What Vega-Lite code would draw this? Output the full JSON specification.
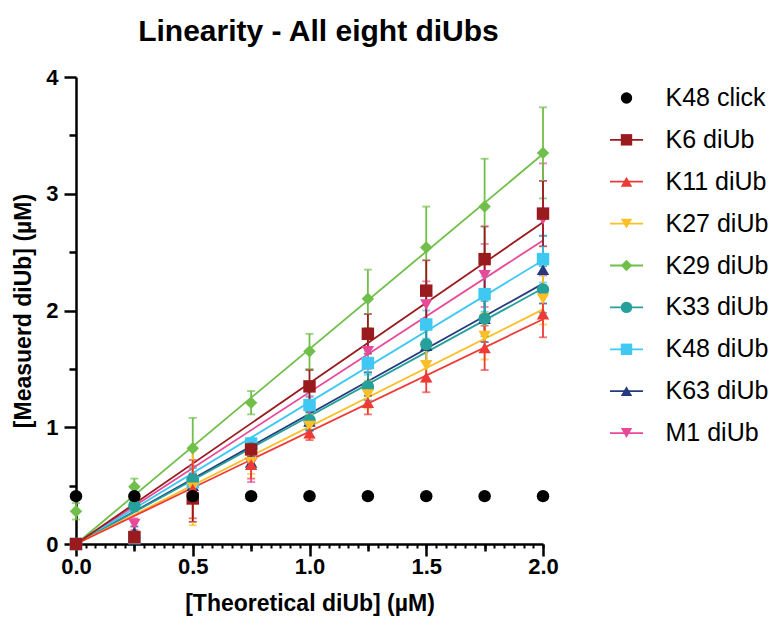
{
  "$schema": "https://vega.github.io/schema/vega-lite/v6.json",
  "background": "white",
  "padding": {"left": 12, "top": 17, "right": 0, "bottom": 5},
  "config": {"view": {"stroke": null}, "font": "Liberation Sans", "concat": {"spacing": 50}},
  "datasets": {
    "pts": [
      {"s": "M1 diUb", "x": 0, "y": 0, "e": 0},
      {"s": "M1 diUb", "x": 0.25, "y": 0.17, "e": 0.05},
      {"s": "M1 diUb", "x": 0.5, "y": 0.52, "e": 0.15},
      {"s": "M1 diUb", "x": 0.75, "y": 0.69, "e": 0.16},
      {"s": "M1 diUb", "x": 1.0, "y": 1.16, "e": 0.1},
      {"s": "M1 diUb", "x": 1.25, "y": 1.65, "e": 0.15},
      {"s": "M1 diUb", "x": 1.5, "y": 2.05, "e": 0.2},
      {"s": "M1 diUb", "x": 1.75, "y": 2.3, "e": 0.27},
      {"s": "M1 diUb", "x": 2.0, "y": 2.78, "e": 0.48},
      {"s": "K63 diUb", "x": 0, "y": 0, "e": 0},
      {"s": "K63 diUb", "x": 0.25, "y": 0.1, "e": 0.05},
      {"s": "K63 diUb", "x": 0.5, "y": 0.5, "e": 0.1},
      {"s": "K63 diUb", "x": 0.75, "y": 0.7, "e": 0.05},
      {"s": "K63 diUb", "x": 1.0, "y": 1.05, "e": 0.08},
      {"s": "K63 diUb", "x": 1.25, "y": 1.37, "e": 0.1},
      {"s": "K63 diUb", "x": 1.5, "y": 1.7, "e": 0.14},
      {"s": "K63 diUb", "x": 1.75, "y": 1.93, "e": 0.2},
      {"s": "K63 diUb", "x": 2.0, "y": 2.35, "e": 0.29},
      {"s": "K48 diUb", "x": 0, "y": 0, "e": 0},
      {"s": "K48 diUb", "x": 0.25, "y": 0.05, "e": 0.03},
      {"s": "K48 diUb", "x": 0.5, "y": 0.53, "e": 0.08},
      {"s": "K48 diUb", "x": 0.75, "y": 0.86, "e": 0.05},
      {"s": "K48 diUb", "x": 1.0, "y": 1.19, "e": 0.08},
      {"s": "K48 diUb", "x": 1.25, "y": 1.55, "e": 0.1},
      {"s": "K48 diUb", "x": 1.5, "y": 1.88, "e": 0.12},
      {"s": "K48 diUb", "x": 1.75, "y": 2.14, "e": 0.15},
      {"s": "K48 diUb", "x": 2.0, "y": 2.44, "e": 0.2},
      {"s": "K33 diUb", "x": 0, "y": 0, "e": 0},
      {"s": "K33 diUb", "x": 0.25, "y": 0.33, "e": 0.05},
      {"s": "K33 diUb", "x": 0.5, "y": 0.55, "e": 0.1},
      {"s": "K33 diUb", "x": 0.75, "y": 0.82, "e": 0.05},
      {"s": "K33 diUb", "x": 1.0, "y": 1.06, "e": 0.08},
      {"s": "K33 diUb", "x": 1.25, "y": 1.35, "e": 0.12},
      {"s": "K33 diUb", "x": 1.5, "y": 1.71, "e": 0.15},
      {"s": "K33 diUb", "x": 1.75, "y": 1.93, "e": 0.15},
      {"s": "K33 diUb", "x": 2.0, "y": 2.18, "e": 0.2},
      {"s": "K29 diUb", "x": 0, "y": 0.28, "e": 0.07},
      {"s": "K29 diUb", "x": 0.25, "y": 0.49, "e": 0.07},
      {"s": "K29 diUb", "x": 0.5, "y": 0.82, "e": 0.26},
      {"s": "K29 diUb", "x": 0.75, "y": 1.21, "e": 0.1},
      {"s": "K29 diUb", "x": 1.0, "y": 1.65, "e": 0.15},
      {"s": "K29 diUb", "x": 1.25, "y": 2.1, "e": 0.25},
      {"s": "K29 diUb", "x": 1.5, "y": 2.54, "e": 0.35},
      {"s": "K29 diUb", "x": 1.75, "y": 2.89, "e": 0.41},
      {"s": "K29 diUb", "x": 2.0, "y": 3.35, "e": 0.39},
      {"s": "K27 diUb", "x": 0, "y": 0, "e": 0},
      {"s": "K27 diUb", "x": 0.25, "y": 0.05, "e": 0.03},
      {"s": "K27 diUb", "x": 0.5, "y": 0.48, "e": 0.32},
      {"s": "K27 diUb", "x": 0.75, "y": 0.7, "e": 0.1},
      {"s": "K27 diUb", "x": 1.0, "y": 1.01, "e": 0.1},
      {"s": "K27 diUb", "x": 1.25, "y": 1.28, "e": 0.12},
      {"s": "K27 diUb", "x": 1.5, "y": 1.53, "e": 0.14},
      {"s": "K27 diUb", "x": 1.75, "y": 1.78, "e": 0.2},
      {"s": "K27 diUb", "x": 2.0, "y": 2.1, "e": 0.22},
      {"s": "K11 diUb", "x": 0, "y": 0, "e": 0},
      {"s": "K11 diUb", "x": 0.25, "y": 0.05, "e": 0.02},
      {"s": "K11 diUb", "x": 0.5, "y": 0.47, "e": 0.25},
      {"s": "K11 diUb", "x": 0.75, "y": 0.68, "e": 0.12},
      {"s": "K11 diUb", "x": 1.0, "y": 0.95, "e": 0.06},
      {"s": "K11 diUb", "x": 1.25, "y": 1.21, "e": 0.1},
      {"s": "K11 diUb", "x": 1.5, "y": 1.43, "e": 0.13},
      {"s": "K11 diUb", "x": 1.75, "y": 1.68, "e": 0.19},
      {"s": "K11 diUb", "x": 2.0, "y": 1.97, "e": 0.2},
      {"s": "K6 diUb", "x": 0, "y": 0, "e": 0},
      {"s": "K6 diUb", "x": 0.25, "y": 0.06, "e": 0.03},
      {"s": "K6 diUb", "x": 0.5, "y": 0.39, "e": 0.2},
      {"s": "K6 diUb", "x": 0.75, "y": 0.81, "e": 0.08},
      {"s": "K6 diUb", "x": 1.0, "y": 1.35, "e": 0.14},
      {"s": "K6 diUb", "x": 1.25, "y": 1.8, "e": 0.17},
      {"s": "K6 diUb", "x": 1.5, "y": 2.17, "e": 0.26},
      {"s": "K6 diUb", "x": 1.75, "y": 2.44, "e": 0.28},
      {"s": "K6 diUb", "x": 2.0, "y": 2.83, "e": 0.28},
      {"s": "K48 click", "x": 0, "y": 0.41, "e": 0},
      {"s": "K48 click", "x": 0.25, "y": 0.41, "e": 0},
      {"s": "K48 click", "x": 0.5, "y": 0.41, "e": 0},
      {"s": "K48 click", "x": 0.75, "y": 0.41, "e": 0},
      {"s": "K48 click", "x": 1.0, "y": 0.41, "e": 0},
      {"s": "K48 click", "x": 1.25, "y": 0.41, "e": 0},
      {"s": "K48 click", "x": 1.5, "y": 0.41, "e": 0},
      {"s": "K48 click", "x": 1.75, "y": 0.41, "e": 0},
      {"s": "K48 click", "x": 2.0, "y": 0.41, "e": 0}
    ],
    "fit": [
      {"s": "M1 diUb", "x": 0, "y": 0}, {"s": "M1 diUb", "x": 2, "y": 2.6},
      {"s": "K63 diUb", "x": 0, "y": 0}, {"s": "K63 diUb", "x": 2, "y": 2.23},
      {"s": "K48 diUb", "x": 0, "y": 0}, {"s": "K48 diUb", "x": 2, "y": 2.43},
      {"s": "K33 diUb", "x": 0, "y": 0}, {"s": "K33 diUb", "x": 2, "y": 2.19},
      {"s": "K29 diUb", "x": 0, "y": 0}, {"s": "K29 diUb", "x": 2, "y": 3.34},
      {"s": "K27 diUb", "x": 0, "y": 0}, {"s": "K27 diUb", "x": 2, "y": 2.01},
      {"s": "K11 diUb", "x": 0, "y": 0}, {"s": "K11 diUb", "x": 2, "y": 1.925},
      {"s": "K6 diUb", "x": 0, "y": 0}, {"s": "K6 diUb", "x": 2, "y": 2.755}
    ],
    "leg": [
      {"s": "K48 click"}, {"s": "K6 diUb"}, {"s": "K11 diUb"}, {"s": "K27 diUb"}, {"s": "K29 diUb"},
      {"s": "K33 diUb"}, {"s": "K48 diUb"}, {"s": "K63 diUb"}, {"s": "M1 diUb"}
    ]
  },
  "hconcat": [
    {
      "width": 467,
      "height": 467,
      "title": {"text": "Linearity - All eight diUbs", "fontSize": 30, "fontWeight": "bold", "font": "Liberation Sans", "color": "black", "anchor": "middle", "offset": 19, "dx": 9},
      "resolve": {"axis": {"x": "independent", "y": "independent"}},
      "layer": [
        {
          "data": {"name": "fit"},
          "mark": {"type": "line", "strokeWidth": 1.8, "clip": false},
          "encoding": {
            "x": {"field": "x", "type": "quantitative",
              "scale": {"domain": [0, 2], "nice": false, "zero": false},
              "axis": {
                "orient": "bottom", "title": null, "labels": false, "domain": false, "grid": false,
                "values": [0, 0.041667, 0.083333, 0.125, 0.166667, 0.208333, 0.25, 0.291667, 0.333333, 0.375, 0.416667, 0.458333, 0.5, 0.541667, 0.583333, 0.625, 0.666667, 0.708333, 0.75, 0.791667, 0.833333, 0.875, 0.916667, 0.958333, 1, 1.041667, 1.083333, 1.125, 1.166667, 1.208333, 1.25, 1.291667, 1.333333, 1.375, 1.416667, 1.458333, 1.5, 1.541667, 1.583333, 1.625, 1.666667, 1.708333, 1.75, 1.791667, 1.833333, 1.875, 1.916667, 1.958333, 2],
                "tickColor": "black", "tickWidth": 2, "tickSize": 4
              }
            },
            "y": {"field": "y", "type": "quantitative",
              "scale": {"domain": [0, 4], "nice": false},
              "axis": {
                "orient": "left", "title": null, "labels": false, "domain": false, "grid": false,
                "values": [0.5, 1.5, 2.5, 3.5],
                "tickColor": "black", "tickWidth": 2.5, "tickSize": 7
              }
            },
            "color": {"field": "s", "type": "nominal", "legend": null,
              "scale": {"domain": ["K48 click", "K6 diUb", "K11 diUb", "K27 diUb", "K29 diUb", "K33 diUb", "K48 diUb", "K63 diUb", "M1 diUb"],
                        "range": ["#000000", "#991b1e", "#ee3a36", "#fcbf25", "#70bf4a", "#26a09a", "#3ec8f2", "#243b7e", "#ea4898"]}},
            "detail": {"field": "s"}
          }
        },
        {
          "data": {"name": "pts"},
          "transform": [{"filter": "datum.e > 0"}],
          "mark": {"type": "errorbar", "ticks": {"size": 8, "thickness": 1.8}, "thickness": 1.8},
          "encoding": {
            "x": {"field": "x", "type": "quantitative",
              "axis": {
                "orient": "bottom", "title": null, "labels": false, "domain": false, "grid": false,
                "values": [0.25, 0.75, 1.25, 1.75],
                "tickColor": "black", "tickWidth": 2.5, "tickSize": 7
              }
            },
            "y": {"field": "y", "type": "quantitative", "axis": null},
            "yError": {"field": "e"},
            "color": {"field": "s", "type": "nominal", "legend": null}
          }
        },
        {
          "data": {"name": "pts"},
          "mark": {"type": "point", "filled": true, "opacity": 1, "size": 155, "clip": false},
          "encoding": {
            "x": {"field": "x", "type": "quantitative",
              "axis": {
                "orient": "bottom", "title": "[Theoretical diUb] (µM)", "titleFontSize": 23, "titleFontWeight": "bold", "titleColor": "black", "titlePadding": 15,
                "values": [0, 0.5, 1, 1.5, 2], "format": ".1f",
                "labelFontSize": 22, "labelFontWeight": "bold", "labelColor": "black", "labelPadding": 0, "labelFlush": false, "labelOverlap": false,
                "domainColor": "black", "domainWidth": 2.5, "tickColor": "black", "tickWidth": 2.5, "tickSize": 12, "grid": false
              }
            },
            "y": {"field": "y", "type": "quantitative",
              "axis": {
                "orient": "left", "title": "[Measuerd diUb] (µM)", "titleFontSize": 23, "titleFontWeight": "bold", "titleColor": "black", "titlePadding": 10,
                "values": [0, 1, 2, 3, 4], "format": "d",
                "labelFontSize": 22, "labelFontWeight": "bold", "labelColor": "black", "labelPadding": 6, "labelFlush": false, "labelOverlap": false,
                "domainColor": "black", "domainWidth": 2.5, "tickColor": "black", "tickWidth": 2.5, "tickSize": 12, "grid": false
              }
            },
            "color": {"field": "s", "type": "nominal", "legend": null},
            "shape": {"field": "s", "type": "nominal", "legend": null,
              "scale": {"domain": ["K48 click", "K6 diUb", "K11 diUb", "K27 diUb", "K29 diUb", "K33 diUb", "K48 diUb", "K63 diUb", "M1 diUb"],
                        "range": ["circle", "square", "triangle-up", "triangle-down", "diamond", "circle", "square", "triangle-up", "triangle-down"]}}
          }
        }
      ]
    },
    {
      "width": 150,
      "height": 377,
      "data": {"name": "leg"},
      "encoding": {
        "y": {"field": "s", "type": "nominal", "axis": null,
          "scale": {"type": "point", "padding": 0.5, "domain": ["K48 click", "K6 diUb", "K11 diUb", "K27 diUb", "K29 diUb", "K33 diUb", "K48 diUb", "K63 diUb", "M1 diUb"]}}
      },
      "layer": [
        {
          "transform": [{"filter": "datum.s !== 'K48 click'"}],
          "mark": {"type": "rule", "strokeWidth": 1.8},
          "encoding": {
            "x": {"datum": 0, "type": "quantitative", "scale": {"domain": [0, 10]}, "axis": null},
            "x2": {"datum": 2.2},
            "color": {"field": "s", "type": "nominal", "legend": null}
          }
        },
        {
          "mark": {"type": "point", "filled": true, "opacity": 1, "size": 130},
          "encoding": {
            "x": {"datum": 1.1, "type": "quantitative"},
            "color": {"field": "s", "type": "nominal", "legend": null},
            "shape": {"field": "s", "type": "nominal", "legend": null}
          }
        },
        {
          "mark": {"type": "text", "align": "left", "baseline": "middle", "fontSize": 25, "font": "Liberation Sans", "color": "black"},
          "encoding": {
            "x": {"datum": 3.7, "type": "quantitative"},
            "text": {"field": "s"}
          }
        }
      ]
    }
  ]
}
